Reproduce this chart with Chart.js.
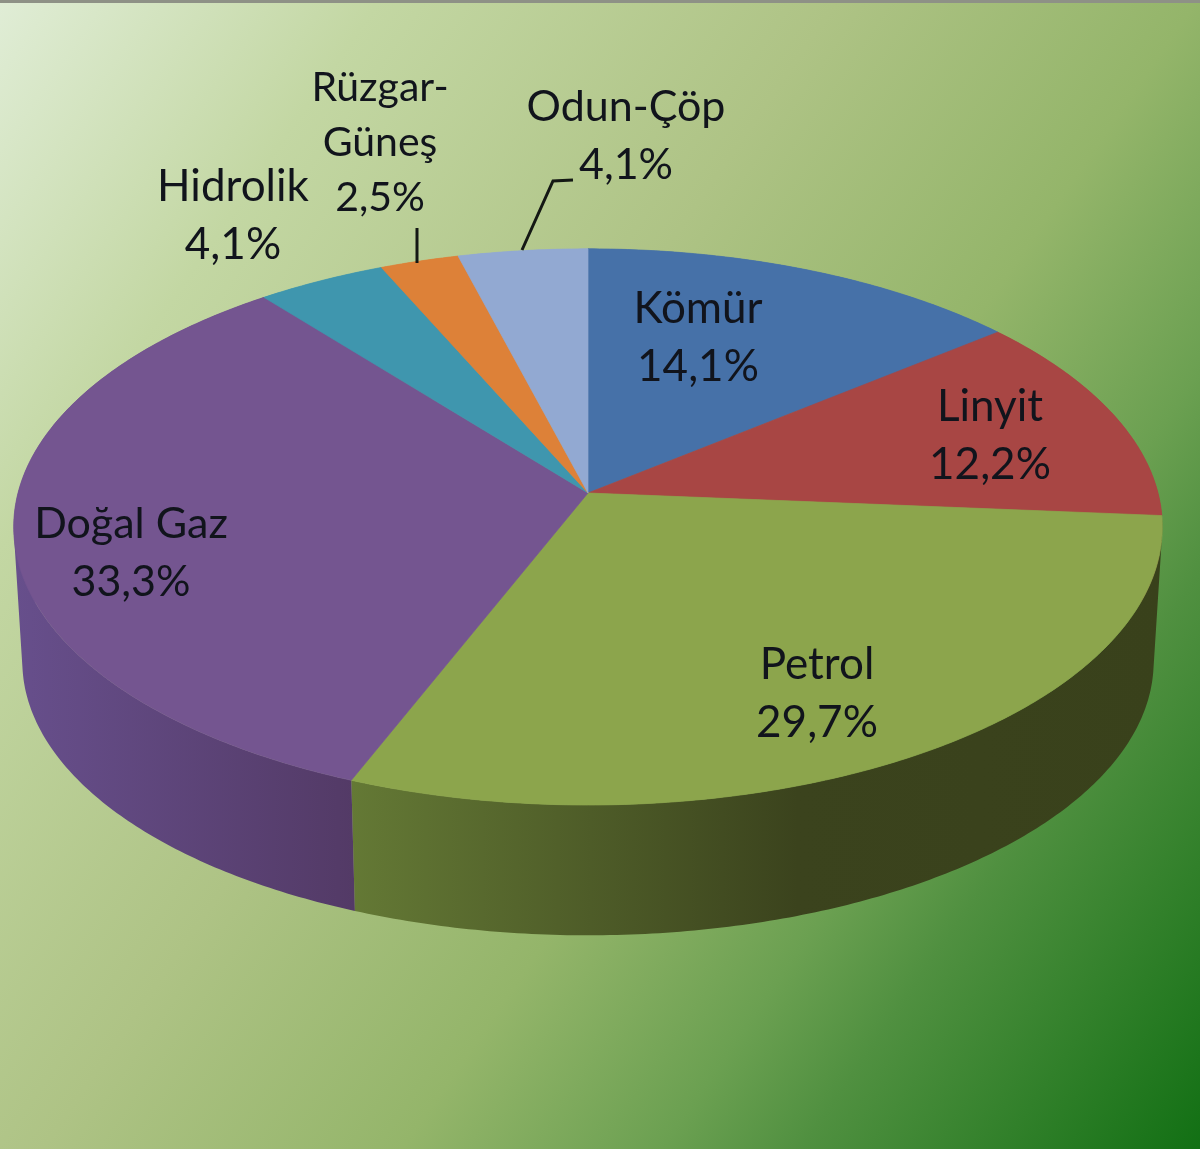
<!DOCTYPE html>
<html><head><meta charset="utf-8">
<style>html,body{margin:0;padding:0;background:#fff}canvas{display:block}</style>
<script src="https://cdn.jsdelivr.net/npm/chart.js@4"></script>
</head><body><canvas id="c" width="1200" height="1149"></canvas>
<script>
const categories = ["Kömür","Linyit","Petrol","Doğal Gaz","Hidrolik","Rüzgar-Güneş","Odun-Çöp"];
const values = [14.1,12.2,29.7,33.3,4.1,2.5,4.1];
const valueLabels = ["14,1%","12,2%","29,7%","33,3%","4,1%","2,5%","4,1%"];
const sliceColors = ["#4671a8","#a84644","#8ca54c","#745590","#3f96ae","#dd8138","#92a9d2"];
const sideStops = [null,null,[[0,"#647935"],[0.55,"#3b431d"],[1,"#39411b"]],[[0,"#674f8c"],[1,"#533a66"]],null,null,null];
const labelLines = [["Kömür"],["Linyit"],["Petrol"],["Doğal Gaz"],["Hidrolik"],["Rüzgar-","Güneş"],["Odun-Çöp"]];
const labelCentres = [[698,309,58,44],[990,407,58,44],[817,665,58,44],[131,524,58,43],[233,187,58,44],[380,88,55,41],[626,107,58,43]];

const disc = {cx:588, cy:493, R:570, b:0.4806, k:0.122, lowerScale:0.985, lowerShift:135};
function upperPt(a){
  const X=Math.cos(a),Y=Math.sin(a),s=1/(1-disc.k*Y);
  return [disc.cx+disc.R*X*s, disc.cy+disc.R*disc.b*Y*s];
}
function lowerPt(a){
  const p=upperPt(a);
  return [disc.cx+(p[0]-disc.cx)*disc.lowerScale, disc.cy+disc.lowerShift+(p[1]-disc.cy)*disc.lowerScale];
}
function sweep(ctx,fn,a0,a1){
  const n=Math.max(8,Math.ceil((a1-a0)*90));
  for(let i=0;i<=n;i++){
    const p=fn(a0+(a1-a0)*i/n);
    ctx.lineTo(p[0],p[1]);
  }
}
function addQuad(ctx,q){
  let area=0;
  for(let i=0;i<4;i++){const p=q[i],r=q[(i+1)%4];area+=p[0]*r[1]-r[0]*p[1];}
  const pts=area<0?q.slice().reverse():q;
  ctx.moveTo(pts[0][0],pts[0][1]);
  for(let i=1;i<4;i++)ctx.lineTo(pts[i][0],pts[i][1]);
  ctx.closePath();
}
const pie3d = {
  id:"pie3d",
  beforeDraw(chart){
    const ctx=chart.ctx,W=chart.width,H=chart.height;
    const g=ctx.createLinearGradient(0,0,1349,934);
    [[0,"#e0edd6"],[0.19,"#c3d7a3"],[0.42,"#aec385"],[0.6,"#94b56a"],[0.73,"#6ba051"],[0.8,"#509040"],[1,"#127014"]].forEach(s=>g.addColorStop(s[0],s[1]));
    ctx.fillStyle=g;ctx.fillRect(0,0,W,H);
    ctx.fillStyle="#8e9186";ctx.fillRect(0,0,W,3);
  },
  beforeDatasetDraw(chart,args){
    const ctx=chart.ctx,arcs=args.meta.data;
    ctx.save();
    arcs.forEach((arc,i)=>{
      const a0=arc.startAngle,a1=arc.endAngle;
      const st=sideStops[i];
      if(st){
        const xs=[upperPt(a0)[0],upperPt(a1)[0],lowerPt(a0)[0],lowerPt(a1)[0]];
        let x0=Math.min(...xs),x1=Math.max(...xs);
        if(i===2)x1=1163; if(i===3)x0=14;
        const g=ctx.createLinearGradient(x0,0,x1,0);
        st.forEach(s=>g.addColorStop(s[0],s[1]));
        ctx.fillStyle=g;
      } else {ctx.fillStyle=sliceColors[i];}
      const n=Math.max(8,Math.ceil((a1-a0)*90));
      ctx.beginPath();
      for(let j=0;j<n;j++){
        const b0=a0+(a1-a0)*j/n,b1=a0+(a1-a0)*(j+1)/n;
        addQuad(ctx,[upperPt(b0),upperPt(b1),lowerPt(b1),lowerPt(b0)]);
      }
      ctx.fill("nonzero");
    });
    arcs.forEach((arc,i)=>{
      ctx.beginPath();ctx.moveTo(disc.cx,disc.cy);sweep(ctx,upperPt,arc.startAngle,arc.endAngle);ctx.closePath();
      ctx.fillStyle=sliceColors[i];ctx.strokeStyle=sliceColors[i];ctx.fill();ctx.lineWidth=0.7;ctx.stroke();
    });
    ctx.restore();
    return false;
  },
  afterDatasetsDraw(chart){
    const ctx=chart.ctx;
    ctx.save();
    ctx.strokeStyle="#141814";ctx.lineWidth=3;
    ctx.beginPath();ctx.moveTo(417,228);ctx.lineTo(417,263);ctx.stroke();
    ctx.beginPath();ctx.moveTo(522,250);ctx.lineTo(553,181);ctx.lineTo(573,180);ctx.stroke();
    ctx.fillStyle="#11141c";ctx.textAlign="center";ctx.textBaseline="middle";
    categories.forEach((c,i)=>{
      const [x,y,dy,size]=labelCentres[i];
      ctx.font=size+'px Lato';
      const lines=labelLines[i].concat(valueLabels[i]);
      lines.forEach((t,j)=>ctx.fillText(t,x,y+j*dy));
    });
    ctx.restore();
  }
};
new Chart(document.getElementById("c"),{
  type:"pie",
  data:{labels:categories,datasets:[{data:values,backgroundColor:sliceColors,borderWidth:0}]},
  options:{responsive:false,animation:false,events:[],
    plugins:{legend:{display:false},tooltip:{enabled:false},title:{display:false}}},
  plugins:[pie3d]
});
</script></body></html>
